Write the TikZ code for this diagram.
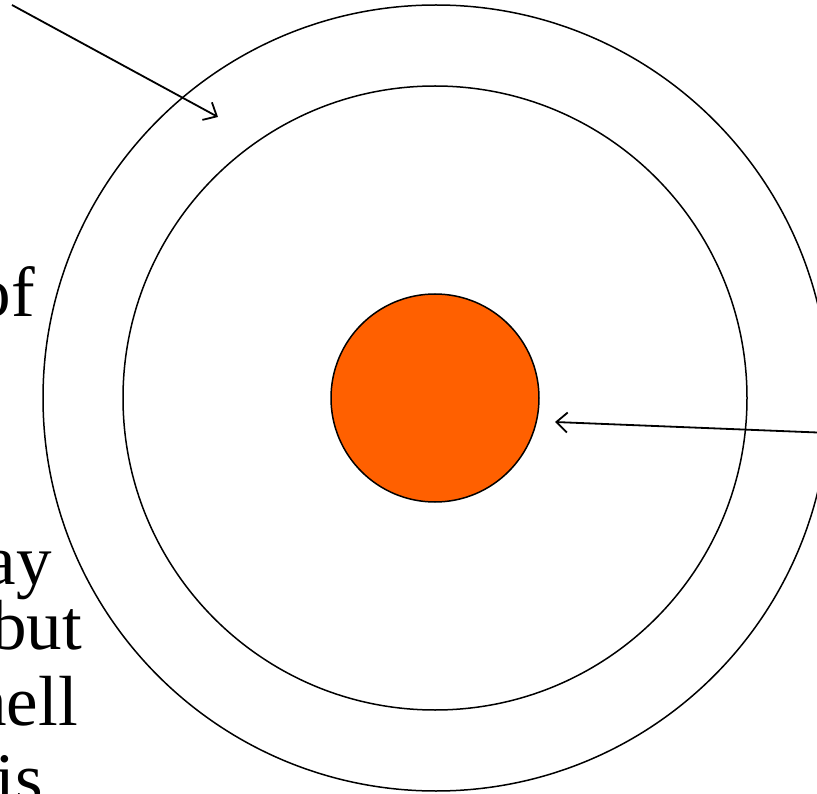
\documentclass[tikz,border=0pt]{standalone}
\usepackage{fontspec}
\setmainfont{Liberation Serif}
\usetikzlibrary{arrows.meta}
\definecolor{nucleus}{HTML}{FF6000}
\begin{document}
\begin{tikzpicture}[x=1pt,y=-1pt,
  ring/.style={draw=black,line width=1.5pt,circle,inner sep=0pt},
  ptr/.style={line width=1.8pt,-{Straight Barb[length=11pt,width=20pt,line width=1.8pt]}},
  lbl/.style={anchor=base east,inner sep=0pt,font=\fontsize{71}{71}\selectfont}]
\useasboundingbox (0,0) rectangle (817,794);
\node[ring,minimum size=786pt] (outer) at (436,398) {};
\node[ring,minimum size=624pt] (inner) at (435,398) {};
\node[ring,fill=nucleus,minimum size=208pt] (nuc) at (435,398) {};
\coordinate (a1s) at (12,5);
\coordinate (a1e) at (218,117);
\coordinate (a2s) at (830,433);
\coordinate (a2e) at (555,422);
\draw[ptr] (a1s) -- (a1e);
\draw[ptr] (a2s) -- (a2e);
\node[lbl] (t1) at (35,317) {of};
\node[lbl] (t2) at (52,584) {ay};
\node[lbl] (t3) at (82,649) {but};
\node[lbl] (t4) at (78,725) {hell};
\node[lbl] (t5) at (43,802) {is};
\end{tikzpicture}
\end{document}
